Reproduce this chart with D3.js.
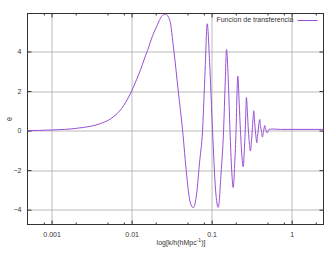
<!DOCTYPE html>
<html>
<head>
<meta charset="utf-8">
<script src="https://cdn.jsdelivr.net/npm/d3@7"></script>
<style>
  body { margin: 0; background: #fff; }
  text { font-family: "Liberation Sans", Arial, sans-serif; fill: #333; }
</style>
</head>
<body>
<div id="chart"></div>
<script>
// k values (h/Mpc)
var kValues = [0.0005, 0.001, 0.00211, 0.00412, 0.0055, 0.0066, 0.0075, 0.0085, 0.0092, 0.01,
  0.0116, 0.013, 0.01436, 0.0158, 0.0183, 0.021, 0.0221, 0.0237, 0.0266, 0.0299,
  0.0338, 0.0383, 0.0434, 0.0486, 0.0538, 0.059,
  0.0649, 0.0707, 0.077, 0.0828, 0.0881, 0.0942, 0.1026, 0.112, 0.121, 0.131,
  0.141, 0.148, 0.1534, 0.1616, 0.1696, 0.178, 0.186, 0.1946, 0.2019, 0.2073,
  0.2122, 0.221, 0.229, 0.239, 0.248, 0.256, 0.263, 0.268, 0.272, 0.28,
  0.288, 0.297, 0.305, 0.315, 0.322, 0.329, 0.336, 0.345, 0.352, 0.36,
  0.366, 0.374, 0.382, 0.39, 0.399, 0.409, 0.419, 0.431, 0.447, 0.461,
  0.475, 0.495, 0.52, 0.558, 0.723, 2.5];
// transfer function values
var thetaValues = [0.0, 0.03, 0.12, 0.36, 0.6, 0.86, 1.12, 1.45, 1.7, 2.0,
  2.6, 3.1, 3.6, 4.05, 4.8, 5.35, 5.55, 5.78, 5.88, 5.6,
  4.0, 2.0, 0.0, -2.2, -3.6, -3.9,
  -3.2, -1.6, 0.0, 3.0, 5.4, 3.5, 0.0, -3.0, -3.89, -2.2,
  0.0, 2.5, 4.1, 2.5, 0.0, -2.0, -2.88, -1.6, 0.0, 1.8,
  2.75, 1.4, 0.0, -1.3, -1.83, -1.0, 0.0, 1.0, 1.67, 0.9,
  0.0, -0.7, -1.03, -0.5, 0.0, 0.6, 1.0, 0.4, 0.0, -0.4,
  -0.62, -0.3, 0.0, 0.35, 0.56, 0.2, 0.0, -0.33, 0.0, 0.25,
  0.05, -0.12, 0.05, 0.08, 0.06, 0.06];

var xTicks = [0.001, 0.01, 0.1, 1];
var xTickLabels = ["0.001", "0.01", "0.1", "1"];
var xMinorTicks = [0.0008, 0.002, 0.005, 0.008, 0.02, 0.05, 0.08, 0.2, 0.5, 0.8, 2];
var yTicks = [-4, -2, 0, 2, 4];
var seriesName = "Funcion de transferencia";

var data = kValues.map((k, i) => ({ k: k, v: thetaValues[i] }));

var margin = {top: 13.5, right: 8.5, bottom: 28.5, left: 27.5},
    W = 332, H = 253,
    width = W - margin.left - margin.right,
    height = H - margin.top - margin.bottom;

var svg = d3.select("#chart")
    .append("svg")
    .attr("width", W)
    .attr("height", H)
    .append("g")
    .attr("transform", "translate(" + margin.left + "," + margin.top + ")");

var x = d3.scaleLog()
    .domain([0.0005, 2.5])
    .range([0, width]);

var y = d3.scaleLinear()
    .domain([-4.75, 5.92])
    .range([height, 0]);

// Grid
svg.selectAll("vgrid")
    .data(xTicks)
    .enter()
    .append("line")
    .attr("x1", d => Math.round(x(d)) + 0.5)
    .attr("x2", d => Math.round(x(d)) + 0.5)
    .attr("y1", 0)
    .attr("y2", height)
    .attr("stroke", "#aaa")
    .attr("stroke-width", 0.8);

svg.selectAll("hgrid")
    .data(yTicks)
    .enter()
    .append("line")
    .attr("y1", d => Math.round(y(d)) + 0.5)
    .attr("y2", d => Math.round(y(d)) + 0.5)
    .attr("x1", 0)
    .attr("x2", width)
    .attr("stroke", "#aaa")
    .attr("stroke-width", 0.8);

// Axes (ticks inside, mirrored)
var axisB = d3.axisBottom(x).tickValues(xTicks).tickFormat((d, i) => xTickLabels[i]).tickSizeInner(-4).tickSizeOuter(0).tickPadding(8);
var axisT = d3.axisTop(x).tickValues(xTicks).tickFormat("").tickSizeInner(-4).tickSizeOuter(0);
var axisL = d3.axisLeft(y).tickValues(yTicks).tickSizeInner(-4).tickSizeOuter(0).tickPadding(6);
var axisR = d3.axisRight(y).tickValues(yTicks).tickFormat("").tickSizeInner(-4).tickSizeOuter(0);
var minorB = d3.axisBottom(x).tickValues(xMinorTicks).tickFormat("").tickSizeInner(-2).tickSizeOuter(0);
var minorT = d3.axisTop(x).tickValues(xMinorTicks).tickFormat("").tickSizeInner(-2).tickSizeOuter(0);

svg.append("g").attr("transform", "translate(0," + height + ")").call(axisB);
svg.append("g").call(axisT);
svg.append("g").call(axisL);
svg.append("g").attr("transform", "translate(" + width + ",0)").call(axisR);
svg.append("g").attr("transform", "translate(0," + height + ")").call(minorB);
svg.append("g").call(minorT);

svg.selectAll(".domain").remove();
svg.selectAll(".tick line").attr("stroke", "#333");
svg.selectAll(".tick text").style("font-size", "7px").style("font-family", "Liberation Sans, Arial, sans-serif").attr("fill", "#333");

// Frame
svg.append("rect")
    .attr("x", 0)
    .attr("y", 0)
    .attr("width", width)
    .attr("height", height)
    .attr("fill", "none")
    .attr("stroke", "#333")
    .attr("stroke-width", 1);

// Curve
var line = d3.line()
    .x(d => x(d.k))
    .y(d => y(d.v))
    .curve(d3.curveMonotoneX);

svg.append("path")
    .datum(data)
    .attr("d", line)
    .attr("fill", "none")
    .attr("stroke", "#9a4fd6")
    .attr("stroke-width", 1);

// Legend
svg.append("text")
    .attr("x", 293.5 - margin.left)
    .attr("y", 20 - margin.top)
    .attr("text-anchor", "end")
    .attr("dominant-baseline", "middle")
    .style("font-size", "7px")
    .text(seriesName);

svg.append("line")
    .attr("x1", 297.5 - margin.left)
    .attr("x2", 317.5 - margin.left)
    .attr("y1", 20.5 - margin.top)
    .attr("y2", 20.5 - margin.top)
    .attr("stroke", "#9a4fd6")
    .attr("stroke-width", 1);

// Axis labels
var xl = svg.append("text")
    .attr("x", 181 - margin.left)
    .attr("y", 245 - margin.top)
    .attr("text-anchor", "middle")
    .style("font-size", "7px");
xl.append("tspan").text("log[k/h(hMpc");
xl.append("tspan").attr("dy", -3).style("font-size", "5px").text("-1");
xl.append("tspan").attr("dy", 3).text(")]");

svg.append("text")
    .attr("transform", "translate(" + (12 - margin.left) + "," + (119 - margin.top) + ") rotate(-90)")
    .attr("text-anchor", "middle")
    .style("font-size", "7px")
    .text("θ");
</script>
</body>
</html>
